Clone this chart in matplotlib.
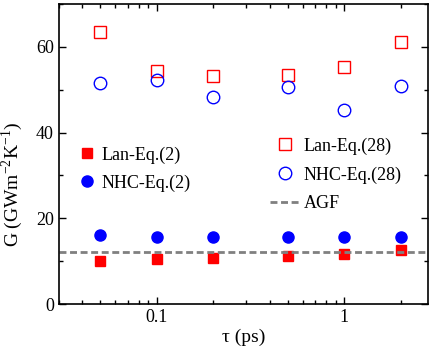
import matplotlib
matplotlib.use("Agg")
import matplotlib.pyplot as plt
from matplotlib.ticker import LogLocator, NullFormatter, MultipleLocator

plt.rcParams['font.family'] = ['Liberation Serif', 'DejaVu Serif']
plt.rcParams['mathtext.fontset'] = 'custom'
plt.rcParams['mathtext.rm'] = 'Liberation Serif'

# data
tau = [0.05, 0.1, 0.2, 0.5, 1.0, 2.0]
lan_eq2 = [10.0, 10.4, 10.7, 11.2, 11.6, 12.5]
nhc_eq2 = [16.1, 15.6, 15.6, 15.6, 15.6, 15.7]
lan_eq28 = [63.5, 54.4, 53.3, 53.5, 55.4, 61.0]
nhc_eq28 = [51.6, 52.3, 48.4, 50.7, 45.3, 50.9]
agf = 12.1

fig = plt.figure(figsize=(4.36, 3.54), dpi=100)
ax = fig.add_axes([0.135, 0.141, 0.847, 0.848])

h1, = ax.plot(tau, lan_eq2, 's', color='red', ms=7, mec='red', label='Lan-Eq.(2)')
h2, = ax.plot(tau, nhc_eq2, 'o', color='blue', ms=8, mec='blue', label='NHC-Eq.(2)')
h3, = ax.plot(tau, lan_eq28, 's', mfc='none', mec='red', ms=8, mew=1.0, label='Lan-Eq.(28)')
h4, = ax.plot(tau, nhc_eq28, 'o', mfc='none', mec='blue', ms=9, mew=1.0, label='NHC-Eq.(28)')
h5 = ax.axhline(agf, color='gray', ls='--', lw=2, dashes=(2.5, 1.3), label='AGF')

ax.set_xscale('log')
ax.set_xlim(0.03, 2.8)
ax.set_ylim(0, 70)
ax.xaxis.set_minor_locator(LogLocator(base=10, subs=range(2, 10), numticks=20))
ax.xaxis.set_minor_formatter(NullFormatter())
ax.set_xticks([0.1, 1])
ax.set_xticklabels(['0.1', '1'])
ax.yaxis.set_major_locator(MultipleLocator(20))
ax.yaxis.set_minor_locator(MultipleLocator(10))

ax.tick_params(which='both', direction='in', top=True, right=True, labelsize=13)
ax.tick_params(which='major', length=5, width=1)
ax.tick_params(which='minor', length=3, width=1)
for s in ax.spines.values():
    s.set_linewidth(1.2)

ax.set_xlabel('τ (ps)', fontsize=14, labelpad=2)
ax.set_ylabel(r'G (GWm$^{-2}$K$^{-1}$)', fontsize=14)
ax.yaxis.set_label_coords(-0.093, 0.40)

leg1 = ax.legend(handles=[h1, h2], loc='upper left', bbox_to_anchor=(0.009, 0.58),
                 frameon=False, fontsize=13, handlelength=1.0, handletextpad=0.3,
                 labelspacing=0.6)
ax.add_artist(leg1)
ax.legend(handles=[h3, h4, h5], loc='upper left', bbox_to_anchor=(0.529, 0.61),
          frameon=False, fontsize=13, handlelength=1.66, handletextpad=0.17,
          labelspacing=0.65)

fig.savefig('out.png', dpi=100)
